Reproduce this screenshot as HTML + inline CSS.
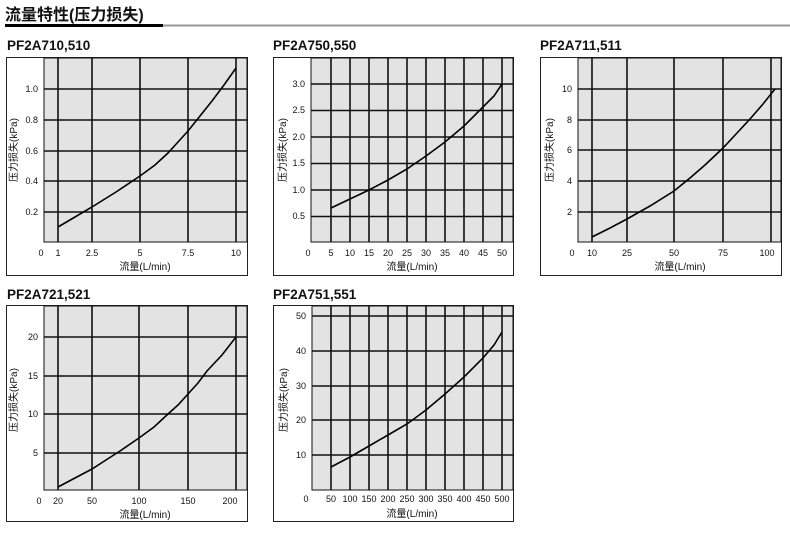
<!DOCTYPE html>
<html><head><meta charset="utf-8"><style>
body{margin:0;background:#fff;width:790px;height:537px;overflow:hidden}
svg{display:block}
text{font-family:"Liberation Sans","Noto Sans CJK SC",sans-serif;fill:#111}
.t{font-size:13.5px;font-weight:bold}
.k{font-size:9px}
.a{font-size:10px}
.g{stroke:#111;stroke-width:1.6;fill:none}
.c{stroke:#000;stroke-width:1.6;fill:none}
.bx{fill:#fff;stroke:#222;stroke-width:1}
.pl{fill:#e3e3e3;stroke:#111;stroke-width:1}
</style></head><body>
<svg width="790" height="537" viewBox="0 0 790 537">
<text x="5" y="20" style="font-size:16px;font-weight:bold">流量特性(压力损失)</text>
<rect x="5" y="24" width="158" height="3" fill="#000"/>
<rect x="163" y="24.5" width="627" height="2" fill="#999"/>

<!-- Panel 1 -->
<text class="t" x="7" y="50">PF2A710,510</text>
<rect class="bx" x="6.5" y="57.5" width="241" height="218"/>
<rect class="pl" x="44" y="58" width="203" height="184"/>
<g class="g"><path d="M58 58V242M92 58V242M140 58V242M188 58V242M236 58V242M44 89H247M44 120H247M44 151H247M44 181H247M44 212H247"/></g>
<path class="c" d="M58 227 L75 217 L92 207 L116 192 L140 176 L155 165 L168 153 L178 142 L188 131 L200 116 L212 101 L224 85 L236 68"/>
<g class="k" text-anchor="end"><text x="38" y="92">1.0</text><text x="38" y="123">0.8</text><text x="38" y="154">0.6</text><text x="38" y="184">0.4</text><text x="38" y="215">0.2</text></g>
<g class="k" text-anchor="middle"><text x="41" y="256">0</text><text x="58" y="256">1</text><text x="92" y="256">2.5</text><text x="140" y="256">5</text><text x="188" y="256">7.5</text><text x="236" y="256">10</text></g>
<text class="a" x="145" y="270" text-anchor="middle">流量(L/min)</text>
<text class="a" transform="translate(17,150) rotate(-90)" text-anchor="middle">压力损失(kPa)</text>

<!-- Panel 2 -->
<text class="t" x="273" y="50">PF2A750,550</text>
<rect class="bx" x="273.5" y="57.5" width="240" height="218"/>
<rect class="pl" x="311" y="58" width="202" height="184"/>
<g class="g"><path d="M331 58V242M350 58V242M369 58V242M388 58V242M407 58V242M426 58V242M445 58V242M464 58V242M483 58V242M502 58V242M311 84H513M311 110.5H513M311 137H513M311 163.5H513M311 190H513M311 216.5H513"/></g>
<path class="c" d="M331 208 L350 199 L369 190 L388 180 L407 169 L426 156 L445 142 L464 126 L483 107 L494 96 L502 84"/>
<g class="k" text-anchor="end"><text x="305" y="87">3.0</text><text x="305" y="113">2.5</text><text x="305" y="140">2.0</text><text x="305" y="166">1.5</text><text x="305" y="193">1.0</text><text x="305" y="219">0.5</text></g>
<g class="k" text-anchor="middle"><text x="308" y="256">0</text><text x="331" y="256">5</text><text x="350" y="256">10</text><text x="369" y="256">15</text><text x="388" y="256">20</text><text x="407" y="256">25</text><text x="426" y="256">30</text><text x="445" y="256">35</text><text x="464" y="256">40</text><text x="483" y="256">45</text><text x="502" y="256">50</text></g>
<text class="a" x="412" y="270" text-anchor="middle">流量(L/min)</text>
<text class="a" transform="translate(286,150) rotate(-90)" text-anchor="middle">压力损失(kPa)</text>

<!-- Panel 3 -->
<text class="t" x="540" y="50">PF2A711,511</text>
<rect class="bx" x="540.5" y="57.5" width="241" height="218"/>
<rect class="pl" x="578" y="58" width="203" height="184"/>
<g class="g"><path d="M592 58V242M627 58V242M674 58V242M723 58V242M771 58V242M578 89H781M578 120H781M578 150H781M578 181H781M578 212H781"/></g>
<path class="c" d="M592 237 L610 228 L627 219 L650 206 L674 191 L690 178 L705 165 L723 148 L737 133 L750 119 L763 104 L775 89"/>
<g class="k" text-anchor="end"><text x="572" y="92">10</text><text x="572" y="123">8</text><text x="572" y="153">6</text><text x="572" y="184">4</text><text x="572" y="215">2</text></g>
<g class="k" text-anchor="middle"><text x="572" y="256">0</text><text x="592" y="256">10</text><text x="627" y="256">25</text><text x="674" y="256">50</text><text x="723" y="256">75</text><text x="767" y="256">100</text></g>
<text class="a" x="680" y="270" text-anchor="middle">流量(L/min)</text>
<text class="a" transform="translate(553,150) rotate(-90)" text-anchor="middle">压力损失(kPa)</text>

<!-- Panel 4 -->
<text class="t" x="7" y="299">PF2A721,521</text>
<rect class="bx" x="6.5" y="305.5" width="241" height="216"/>
<rect class="pl" x="44" y="306" width="203" height="184"/>
<g class="g"><path d="M58 306V490M92 306V490M139 306V490M188 306V490M236 306V490M44 337H247M44 376H247M44 414H247M44 453H247"/></g>
<path class="c" d="M58 487 L75 478 L92 469 L106 460 L120 451 L139 438 L154 427 L168 414 L178 405 L188 394 L198 383 L207 371 L222 355 L236 337"/>
<g class="k" text-anchor="end"><text x="38" y="340">20</text><text x="38" y="379">15</text><text x="38" y="417">10</text><text x="38" y="456">5</text></g>
<g class="k" text-anchor="middle"><text x="39" y="504">0</text><text x="58" y="504">20</text><text x="92" y="504">50</text><text x="139" y="504">100</text><text x="188" y="504">150</text><text x="230" y="504">200</text></g>
<text class="a" x="145" y="518" text-anchor="middle">流量(L/min)</text>
<text class="a" transform="translate(17,400) rotate(-90)" text-anchor="middle">压力损失(kPa)</text>

<!-- Panel 5 -->
<text class="t" x="273" y="299">PF2A751,551</text>
<rect class="bx" x="273.5" y="305.5" width="240" height="216"/>
<rect class="pl" x="312" y="306" width="201" height="184"/>
<g class="g"><path d="M331 306V490M350 306V490M369 306V490M388 306V490M407 306V490M426 306V490M445 306V490M464 306V490M483 306V490M502 306V490M312 316H513M312 351H513M312 386H513M312 420H513M312 455H513"/></g>
<path class="c" d="M331 467 L350 457 L369 446 L388 435 L407 424 L426 410 L445 394 L464 377 L483 358 L494 345 L502 332"/>
<g class="k" text-anchor="end"><text x="306" y="319">50</text><text x="306" y="354">40</text><text x="306" y="389">30</text><text x="306" y="423">20</text><text x="306" y="458">10</text></g>
<g class="k" text-anchor="middle"><text x="306" y="502">0</text><text x="331" y="502">50</text><text x="350" y="502">100</text><text x="369" y="502">150</text><text x="388" y="502">200</text><text x="407" y="502">250</text><text x="426" y="502">300</text><text x="445" y="502">350</text><text x="464" y="502">400</text><text x="483" y="502">450</text><text x="502" y="502">500</text></g>
<text class="a" x="412" y="517" text-anchor="middle">流量(L/min)</text>
<text class="a" transform="translate(287,400) rotate(-90)" text-anchor="middle">压力损失(kPa)</text>
</svg>
</body></html>
